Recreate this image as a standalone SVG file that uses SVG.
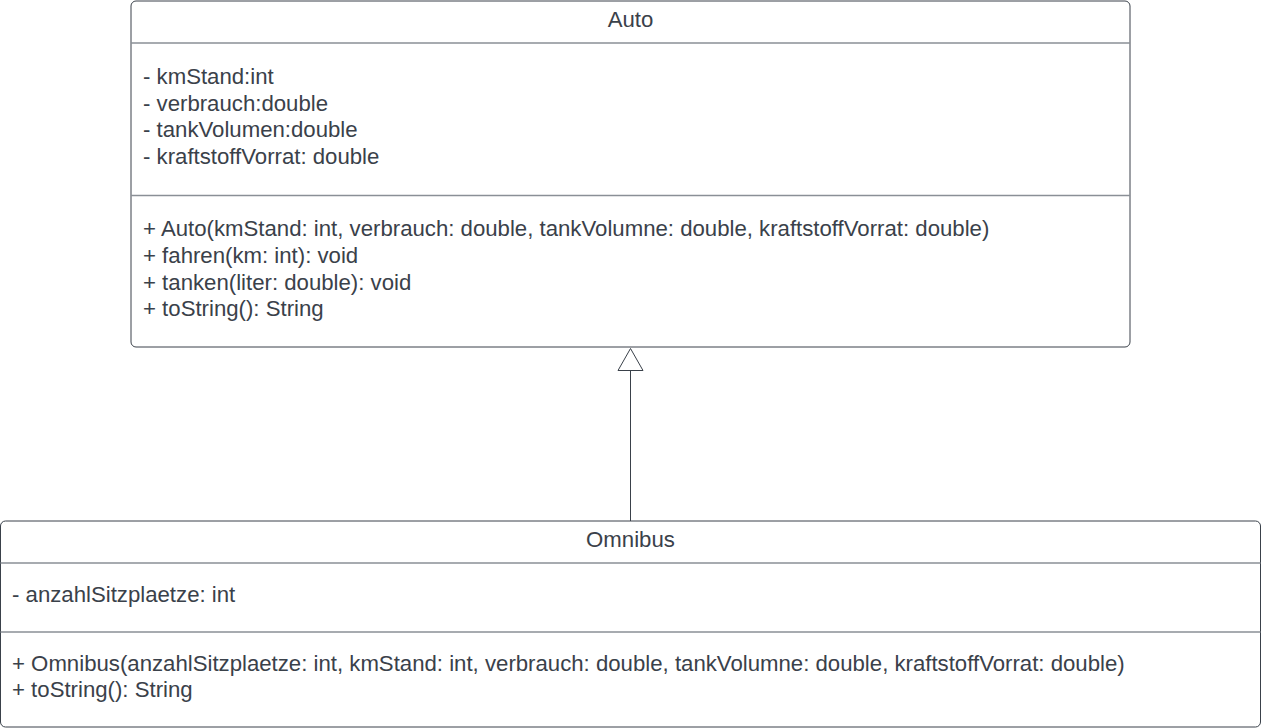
<svg xmlns="http://www.w3.org/2000/svg" width="1261" height="728" viewBox="0 0 1261 728">
<style>
.box{fill:#ffffff;stroke:#3a414a;stroke-width:1}
.div{stroke:#8a8f96;stroke-width:1.5}
.t{font-family:"Liberation Sans",Arial,sans-serif;font-size:22.2px;fill:#3a414a}
.c{text-anchor:middle}
.edge{stroke:#3a414a;stroke-width:1;fill:none}
</style>
<rect width="1261" height="728" fill="#ffffff"/>
<g id="connectors">
<line class="edge" x1="630.5" y1="370" x2="630.5" y2="521"/>
<polygon class="edge" points="630.5,348.5 618,370.5 643,370.5" fill="#ffffff"/>
</g>
<g id="auto">
<rect class="box" x="131" y="1" width="999" height="346" rx="5"/>
<line class="div" x1="131" y1="43" x2="1130" y2="43"/>
<line class="div" x1="131" y1="195.5" x2="1130" y2="195.5"/>
<text class="t c" x="630.5" y="27">Auto</text>
<text class="t" x="143" y="84">- kmStand:int</text>
<text class="t" x="143" y="111">- verbrauch:double</text>
<text class="t" x="143" y="137">- tankVolumen:double</text>
<text class="t" x="143" y="164">- kraftstoffVorrat: double</text>
<text class="t" x="143" y="236">+ Auto(kmStand: int, verbrauch: double, tankVolumne: double, kraftstoffVorrat: double)</text>
<text class="t" x="143" y="263">+ fahren(km: int): void</text>
<text class="t" x="143" y="290">+ tanken(liter: double): void</text>
<text class="t" x="143" y="316">+ toString(): String</text>
</g>
<g id="omnibus">
<rect class="box" x="0.5" y="521" width="1260" height="206" rx="5"/>
<line class="div" x1="0.5" y1="563" x2="1260.5" y2="563"/>
<line class="div" x1="0.5" y1="632" x2="1260.5" y2="632"/>
<text class="t c" x="630.5" y="547">Omnibus</text>
<text class="t" x="12" y="602">- anzahlSitzplaetze: int</text>
<text class="t" x="12" y="671">+ Omnibus(anzahlSitzplaetze: int, kmStand: int, verbrauch: double, tankVolumne: double, kraftstoffVorrat: double)</text>
<text class="t" x="12" y="697">+ toString(): String</text>
</g>
</svg>
